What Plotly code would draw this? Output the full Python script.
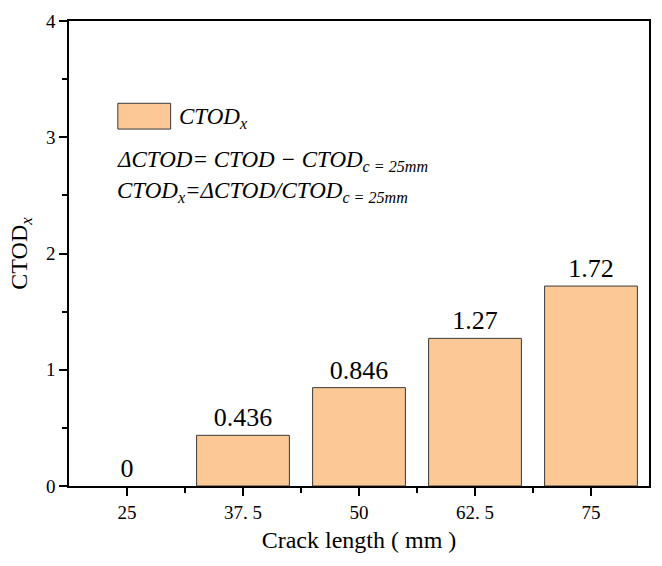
import plotly.graph_objects as go

categories = ["25", "37. 5", "50", "62. 5", "75"]
values = [0, 0.436, 0.846, 1.27, 1.72]
labels = ["0", "0.436", "0.846", "1.27", "1.72"]

FONT = "Liberation Serif"
xpos = list(range(len(categories)))
line_widths = [0 if v == 0 else 1 for v in values]

fig = go.Figure()
fig.add_trace(go.Bar(
    x=xpos, y=values, width=0.8,
    marker=dict(color="#FCC896", line=dict(color="#3a3a3a", width=line_widths)),
    text=labels, textposition="outside", cliponaxis=False,
    textfont=dict(family=FONT, size=26, color="black"),
    showlegend=False,
))

fig.update_layout(
    width=662, height=566,
    margin=dict(l=69, r=11, t=17, b=80),
    plot_bgcolor="white", paper_bgcolor="white",
    font=dict(family=FONT, color="black"),
    xaxis=dict(
        range=[-0.5, 4.5], tickmode="array", tickvals=xpos, ticktext=categories,
        ticks="outside", ticklen=8, tickwidth=1.5, tickcolor="black",
        showline=True, linecolor="black", linewidth=1.5, mirror=True,
        showgrid=False, zeroline=False,
        tickfont=dict(family=FONT, size=19),
        minor=dict(tickmode="array", tickvals=[0.5, 1.5, 2.5, 3.5], ticks="outside", ticklen=5, tickwidth=1.5, tickcolor="black"),
        title=dict(text="Crack length ( mm )", font=dict(family=FONT, size=24), standoff=10),
    ),
    yaxis=dict(
        range=[0, 4], tickmode="array", tickvals=[0, 1, 2, 3, 4],
        ticks="outside", ticklen=8, tickwidth=1.5, tickcolor="black",
        showline=True, linecolor="black", linewidth=1.5, mirror=True,
        showgrid=False, zeroline=False,
        tickfont=dict(family=FONT, size=19),
        minor=dict(tickmode="array", tickvals=[0.5, 1.5, 2.5, 3.5], ticks="outside", ticklen=5, tickwidth=1.5, tickcolor="black"),
        title=dict(text="CTOD<sub><i>x</i></sub>", font=dict(family=FONT, size=24), standoff=12),
    ),
)

# legend swatch
fig.add_shape(type="rect", xref="paper", yref="paper",
              x0=(118 - 69) / 582, x1=(171 - 69) / 582,
              y0=(486 - 126) / 469, y1=(486 - 100) / 469,
              fillcolor="#FCC896", line=dict(color="#3a3a3a", width=1))

ann_font = dict(family=FONT, size=23, color="black")
fig.add_annotation(xref="paper", yref="paper", x=(177 - 69) / 582, y=(486 - 115) / 469,
                   xanchor="left", yanchor="middle", showarrow=False,
                   text="<i>CTOD<sub>x</sub></i>", font=ann_font)
fig.add_annotation(xref="paper", yref="paper", x=(115 - 69) / 582, y=(486 - 158) / 469,
                   xanchor="left", yanchor="middle", showarrow=False,
                   text="<i>ΔCTOD= CTOD − CTOD<sub>c = 25mm</sub></i>", font=ann_font)
fig.add_annotation(xref="paper", yref="paper", x=(115 - 69) / 582, y=(486 - 189) / 469,
                   xanchor="left", yanchor="middle", showarrow=False,
                   text="<i>CTOD<sub>x</sub>=ΔCTOD/CTOD<sub>c = 25mm</sub></i>", font=ann_font)

fig.write_html("out.html")
